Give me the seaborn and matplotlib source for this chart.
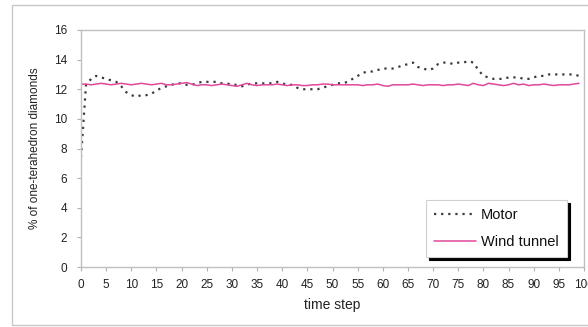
import numpy as np
import pandas as pd
import matplotlib
matplotlib.use("Agg")
import matplotlib.pyplot as plt
from matplotlib.patches import Rectangle
import seaborn as sns

time_step = list(range(100))
motor = [7.4, 12.3, 12.7, 12.9, 12.8, 12.7, 12.6, 12.5, 12.2, 11.8,
         11.6, 11.5, 11.6, 11.6, 11.7, 11.9, 12.1, 12.2, 12.3, 12.4,
         12.4, 12.3, 12.3, 12.4, 12.5, 12.5, 12.5, 12.5, 12.4, 12.4,
         12.3, 12.3, 12.2, 12.3, 12.4, 12.4, 12.4, 12.4, 12.4, 12.5,
         12.4, 12.3, 12.3, 12.1, 12.0, 12.0, 12.0, 12.0, 12.1, 12.2,
         12.3, 12.4, 12.4, 12.5, 12.7, 12.9, 13.1, 13.2, 13.2, 13.3,
         13.4, 13.4, 13.4, 13.5, 13.6, 13.7, 13.8, 13.5, 13.4, 13.3,
         13.4, 13.7, 13.8, 13.8, 13.7, 13.8, 13.8, 13.9, 13.8, 13.3,
         12.9, 12.8, 12.7, 12.7, 12.7, 12.8, 12.8, 12.8, 12.7, 12.7,
         12.8, 12.9, 12.9, 13.0, 13.0, 13.0, 13.0, 13.0, 13.0, 12.9]
wind_tunnel = [12.35, 12.35, 12.3, 12.35, 12.4, 12.35, 12.3, 12.35, 12.4, 12.35,
               12.3, 12.35, 12.4, 12.35, 12.3, 12.35, 12.4, 12.3, 12.3, 12.35,
               12.4, 12.45, 12.35, 12.25, 12.3, 12.3, 12.25, 12.3, 12.35, 12.3,
               12.25, 12.2, 12.3, 12.4, 12.3, 12.25, 12.3, 12.3, 12.3, 12.35,
               12.3, 12.25, 12.3, 12.3, 12.25, 12.25, 12.3, 12.3, 12.35, 12.35,
               12.3, 12.3, 12.3, 12.3, 12.3, 12.3, 12.25, 12.3, 12.3, 12.35,
               12.25, 12.2, 12.3, 12.3, 12.3, 12.3, 12.35, 12.3, 12.25, 12.3,
               12.3, 12.3, 12.25, 12.3, 12.3, 12.35, 12.3, 12.25, 12.4, 12.3,
               12.25, 12.4, 12.35, 12.3, 12.25, 12.3, 12.4, 12.3, 12.35, 12.25,
               12.3, 12.3, 12.35, 12.3, 12.25, 12.3, 12.3, 12.3, 12.35, 12.4]
x_ticks = list(range(0, 101, 5))
y_ticks = list(range(0, 17, 2))

df = pd.DataFrame({"time step": time_step, "Motor": motor, "Wind tunnel": wind_tunnel})

sns.set_theme(style="white")
plt.rcParams['font.family'] = ['Liberation Sans', 'DejaVu Sans']

fig = plt.figure(figsize=(5.88, 3.27), dpi=100)
fig.patch.set_facecolor("white")
fig.patches.append(Rectangle((12 / 588, 2 / 327), 1.0, 320 / 327, transform=fig.transFigure,
                             fill=False, edgecolor="#c8c8c8", linewidth=1.0))
ax = fig.add_axes([81 / 588, 1 - 267 / 327, (584 - 81) / 588, (267 - 30) / 327])

sns.lineplot(data=df, x="time step", y="Motor", ax=ax, color="#3a3a3a",
             linestyle=(0, (1, 2.2)), linewidth=1.6, label="Motor")
sns.lineplot(data=df, x="time step", y="Wind tunnel", ax=ax, color="#e0489a",
             linewidth=1.1, label="Wind tunnel")

ax.set_xlim(0, 100)
ax.set_ylim(0, 16)
ax.set_xticks(x_ticks)
ax.set_yticks(y_ticks)
ax.tick_params(axis="both", labelsize=8.5, length=3, width=0.8,
               direction="out", bottom=True, left=True, pad=5)
ax.tick_params(axis="x", colors="#b0b0b0", labelcolor="#222222", pad=6)
ax.tick_params(axis="y", colors="#b0b0b0", labelcolor="#222222", pad=7)
for s in ax.spines.values():
    s.set_color("#c0c0c0")
    s.set_linewidth(1.0)
ax.set_xlabel("time step", fontsize=10, color="#222222", labelpad=5)
ax.set_ylabel("% of one-terahedron diamonds", fontsize=8.5, color="#222222", labelpad=9)
ax.set_facecolor("white")

leg = ax.legend(loc="lower right", bbox_to_anchor=(486 / 503, 10 / 237), fontsize=10.5,
                frameon=True, fancybox=False, shadow={"color": "black", "alpha": 1.0},
                handlelength=2.9, borderpad=0.55, labelspacing=0.9, handletextpad=0.35,
                borderaxespad=0)
leg.get_frame().set_edgecolor("#d0d0d0")
leg.get_frame().set_linewidth(0.8)
for t in leg.get_texts():
    t.set_color("#111111")

fig.savefig("out.png", dpi=100)
